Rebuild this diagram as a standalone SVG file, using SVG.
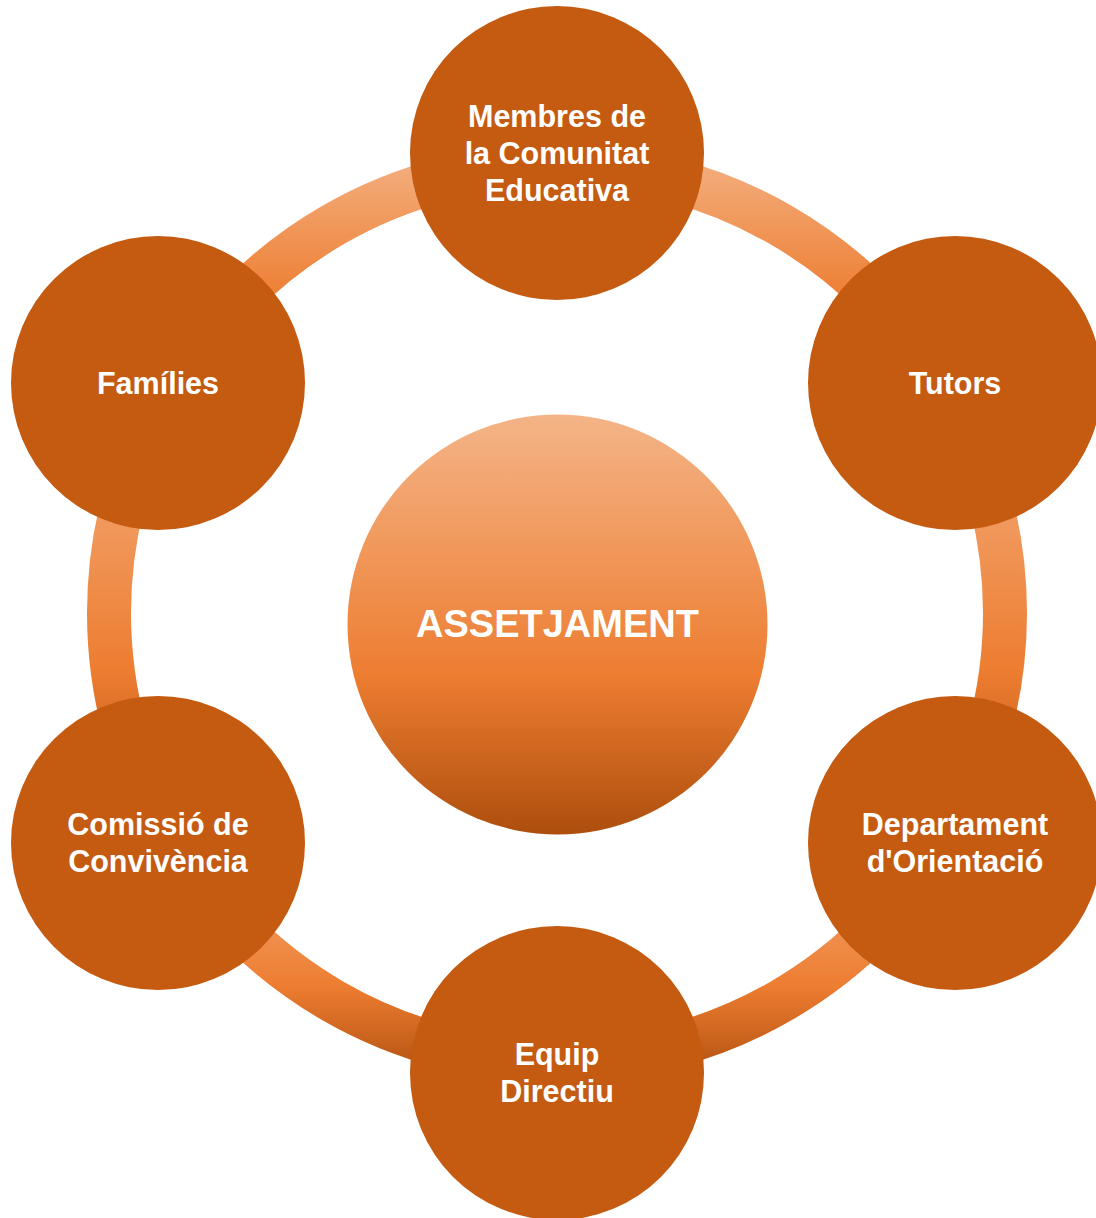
<svg xmlns="http://www.w3.org/2000/svg" width="1096" height="1218" viewBox="0 0 1096 1218">
  <defs>
    <linearGradient id="g" x1="0" y1="0" x2="0" y2="1">
      <stop offset="0" stop-color="#F4B487"/>
      <stop offset="0.62" stop-color="#ED7D31"/>
      <stop offset="1" stop-color="#AD4E0D"/>
    </linearGradient>
    <linearGradient id="gTop" href="#g" gradientUnits="userSpaceOnUse" x1="0" y1="143" x2="0" y2="400"/>
    <linearGradient id="gSide" href="#g" gradientUnits="userSpaceOnUse" x1="0" y1="378" x2="0" y2="848"/>
    <linearGradient id="gBot" href="#g" gradientUnits="userSpaceOnUse" x1="0" y1="826" x2="0" y2="1083"/>
    <linearGradient id="gCenter" href="#g" gradientUnits="userSpaceOnUse" x1="0" y1="415" x2="0" y2="835"/>
  </defs>
  <style>
    .arc { fill: none; stroke-width: 44; }
    .node { fill: #C55A11; }
    .lbl { font-family: "Liberation Sans", Arial, sans-serif; font-weight: bold; font-size: 30.5px; fill: #FFFFFF; text-anchor: middle; }
    .big { font-family: "Liberation Sans", Arial, sans-serif; font-weight: bold; font-size: 39px; fill: #FFFFFF; text-anchor: middle; }
  </style>
  <rect width="1096" height="1218" fill="#FFFFFF"/>
  <g id="connectors">
    <path class="arc" stroke="url(#gTop)" d="M 557 165 A 448 448 0 0 1 944.98 389"/>
    <path class="arc" stroke="url(#gSide)" d="M 944.98 389 A 448 448 0 0 1 944.98 837"/>
    <path class="arc" stroke="url(#gBot)" d="M 944.98 837 A 448 448 0 0 1 557 1061"/>
    <path class="arc" stroke="url(#gBot)" d="M 557 1061 A 448 448 0 0 1 169.02 837"/>
    <path class="arc" stroke="url(#gSide)" d="M 169.02 837 A 448 448 0 0 1 169.02 389"/>
    <path class="arc" stroke="url(#gTop)" d="M 169.02 389 A 448 448 0 0 1 557 165"/>
  </g>
  <g id="node-center">
    <circle cx="557.5" cy="624.5" r="210" fill="url(#gCenter)"/>
    <text class="big" x="557.5" y="637" textLength="283" lengthAdjust="spacingAndGlyphs">ASSETJAMENT</text>
  </g>
  <g id="node-membres">
    <circle class="node" cx="557" cy="153" r="147"/>
    <text class="lbl" x="557" y="127">Membres de</text>
    <text class="lbl" x="557" y="164">la Comunitat</text>
    <text class="lbl" x="557" y="201">Educativa</text>
  </g>
  <g id="node-tutors">
    <circle class="node" cx="955" cy="383" r="147"/>
    <text class="lbl" x="955" y="394">Tutors</text>
  </g>
  <g id="node-departament">
    <circle class="node" cx="955" cy="843" r="147"/>
    <text class="lbl" x="955" y="835">Departament</text>
    <text class="lbl" x="955" y="872">d'Orientació</text>
  </g>
  <g id="node-equip">
    <circle class="node" cx="557" cy="1073" r="147"/>
    <text class="lbl" x="557" y="1065">Equip</text>
    <text class="lbl" x="557" y="1102">Directiu</text>
  </g>
  <g id="node-comissio">
    <circle class="node" cx="158" cy="843" r="147"/>
    <text class="lbl" x="158" y="835">Comissió de</text>
    <text class="lbl" x="158" y="872">Convivència</text>
  </g>
  <g id="node-families">
    <circle class="node" cx="158" cy="383" r="147"/>
    <text class="lbl" x="158" y="394">Famílies</text>
  </g>
</svg>
